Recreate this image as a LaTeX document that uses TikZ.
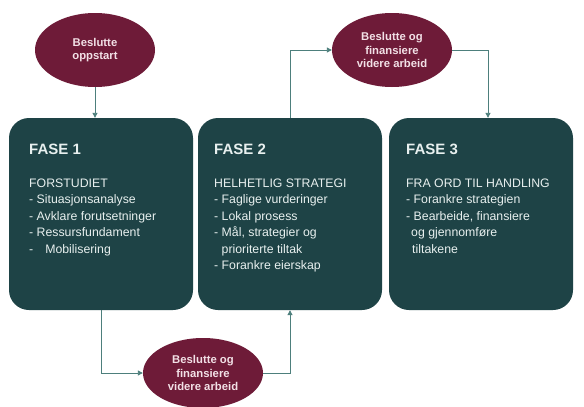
\documentclass[tikz,border=0pt]{standalone}
\usepackage{fontspec}
\setmainfont{Liberation Sans}
\usetikzlibrary{shapes.geometric,arrows.meta,calc}
\definecolor{phasecol}{HTML}{1E4346}
\definecolor{decisioncol}{HTML}{6E1B38}
\definecolor{linecol}{HTML}{4D7F7C}
\definecolor{phasetext}{HTML}{E8F0EF}
\definecolor{decisiontext}{HTML}{F2E0E6}
\begin{document}
\begin{tikzpicture}[x=1pt,y=-1pt,
  phase/.style={rectangle, rounded corners=20pt, fill=phasecol, minimum width=184pt, minimum height=192pt, inner sep=0pt},
  decision/.style={ellipse, fill=decisioncol, minimum width=120pt, minimum height=74pt, inner sep=0pt,
    text=decisiontext, font=\fontsize{11.3}{13.5}\selectfont\bfseries, align=center},
  titletext/.style={text=phasetext, font=\fontsize{15}{18}\selectfont\bfseries, inner sep=0pt},
  bodytext/.style={text=phasetext, font=\fontsize{12.3}{16.5}\selectfont, align=left, inner sep=0pt},
  conn/.style={draw=linecol, line width=0.9pt, -{Triangle[length=5pt,width=5pt]}}]
\useasboundingbox (0,0) rectangle (584,407);
\fill[white] (0,0) rectangle (584,407);

\node[phase] (b1) at (101,214) {};
\node[phase] (b2) at (290,214) {};
\node[phase] (b3) at (481,214) {};

\node[decision] (d1) at (95,50) {Beslutte\\oppstart};
\node[decision] (d2) at (392,50) {Beslutte og\\finansiere\\videre arbeid};
\node[decision, minimum height=70pt] (d3) at (203,373) {Beslutte og\\finansiere\\videre arbeid};

\node[titletext, anchor=west] (t1) at (29,149) {FASE 1};
\node[titletext, anchor=west] (t2) at (214,149) {FASE 2};
\node[titletext, anchor=west] (t3) at (406,149) {FASE 3};

\node[bodytext, anchor=north west] (c1) at (29,178.5) {FORSTUDIET\\- Situasjonsanalyse\\- Avklare forutsetninger\\- Ressursfundament\\-\hspace{12pt}Mobilisering};
\node[bodytext, anchor=north west] (c2) at (214,178.5) {HELHETLIG STRATEGI\\- Faglige vurderinger\\- Lokal prosess\\- Mål, strategier og\\\hspace{7.5pt}prioriterte tiltak\\- Forankre eierskap};
\node[bodytext, anchor=north west] (c3) at (406,178.5) {FRA ORD TIL HANDLING\\- Forankre strategien\\- Bearbeide, finansiere\\\hspace{5pt}og gjennomføre\\\hspace{6pt}tiltakene};

\draw[conn] (d1.south) -- (d1.south |- b1.north);
\draw[conn] (b2.north) |- (d2.west);
\coordinate (in3) at ($(b3.north)+(7,0)$);
\draw[conn] (d2.east) -| (in3);
\draw[conn] (b1.south) |- (d3.west);
\draw[conn] (d3.east) -| (b2.south);
\end{tikzpicture}
\end{document}
